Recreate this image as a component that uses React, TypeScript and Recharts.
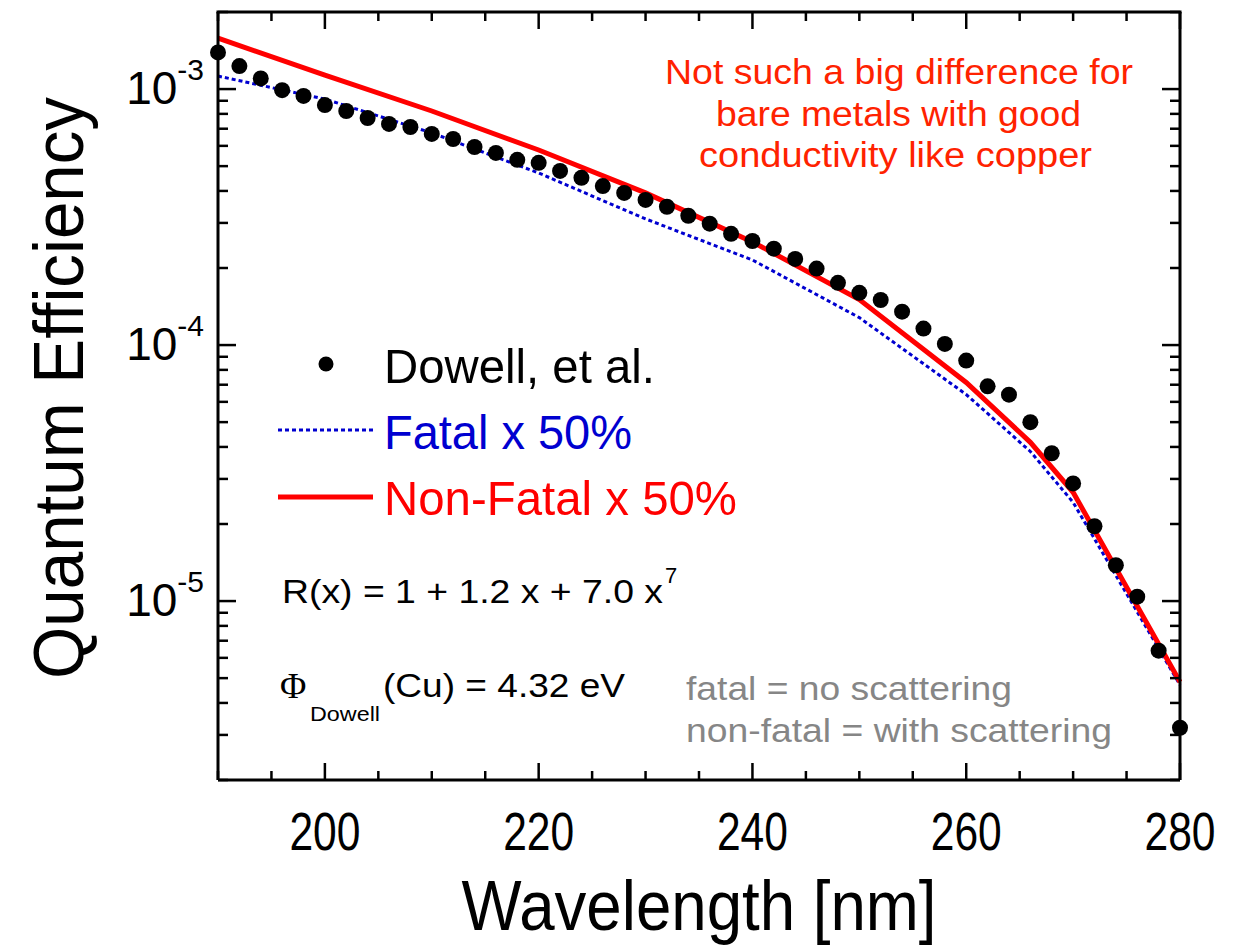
import React from 'react';
import { ComposedChart, Line, Scatter, XAxis, YAxis } from 'recharts';

// Measured QE (Dowell, et al.) every 2 nm
const dowellWavelength = [
  190, 192, 194, 196, 198, 200, 202, 204, 206, 208, 210, 212, 214, 216, 218, 220,
  222, 224, 226, 228, 230, 232, 234, 236, 238, 240, 242, 244, 246, 248, 250, 252,
  254, 256, 258, 260, 262, 264, 266, 268, 270, 272, 274, 276, 278, 280,
];
const dowellQE = [
  1.39e-3, 1.23e-3, 1.10e-3, 9.9e-4, 9.4e-4, 8.66e-4, 8.21e-4, 7.71e-4, 7.31e-4, 7.11e-4,
  6.68e-4, 6.38e-4, 5.94e-4, 5.63e-4, 5.29e-4, 5.15e-4, 4.79e-4, 4.50e-4, 4.18e-4, 3.93e-4,
  3.69e-4, 3.47e-4, 3.20e-4, 2.98e-4, 2.72e-4, 2.55e-4, 2.38e-4, 2.17e-4, 1.99e-4, 1.75e-4,
  1.60e-4, 1.50e-4, 1.35e-4, 1.16e-4, 1.01e-4, 8.7e-5, 6.9e-5, 6.4e-5, 5.0e-5, 3.78e-5,
  2.88e-5, 1.96e-5, 1.38e-5, 1.04e-5, 6.4e-6, 3.2e-6,
];

// Model curves, scaled by 50%
const modelWavelength = [190, 200, 210, 220, 230, 240, 250, 260, 266, 270, 280];
const fatalQE = [1.124e-3, 9.14e-4, 6.74e-4, 4.70e-4, 3.11e-4, 2.15e-4, 1.28e-4, 6.41e-5, 3.84e-5, 2.43e-5, 4.7e-6];
const nonFatalQE = [1.58e-3, 1.134e-3, 8.21e-4, 5.78e-4, 3.93e-4, 2.53e-4, 1.505e-4, 7.14e-5, 4.17e-5, 2.66e-5, 4.83e-6];

const xTicks = [
  190, 195, 200, 205, 210, 215, 220, 225, 230, 235, 240, 245, 250, 255, 260, 265, 270, 275, 280,
];
const xLabels = [200, 220, 240, 260, 280];
const yTicks = [
  2e-6, 3e-6, 4e-6, 5e-6, 6e-6, 7e-6, 8e-6, 9e-6,
  1e-5, 2e-5, 3e-5, 4e-5, 5e-5, 6e-5, 7e-5, 8e-5, 9e-5,
  1e-4, 2e-4, 3e-4, 4e-4, 5e-4, 6e-4, 7e-4, 8e-4, 9e-4,
  1e-3, 2e-3,
];
const X_DOMAIN = [190, 280];
const Y_DOMAIN = [2e-6, 2e-3];

const dowellData = dowellWavelength.map((wl, i) => ({ wl, qe: dowellQE[i] }));
const fatalData = modelWavelength.map((wl, i) => ({ wl, qe: fatalQE[i] }));
const nonFatalData = modelWavelength.map((wl, i) => ({ wl, qe: nonFatalQE[i] }));

// chart box
const W = 1250;
const H = 949;
const LEFT_W = 218;
const RIGHT_W = 70;
const TOP = 12;
const BOTTOM_H = 169;

const FONT = '"Liberation Sans", Arial, sans-serif';

const isDecade = (v: number) => Math.abs(Math.log10(v) - Math.round(Math.log10(v))) < 1e-6;
const tickLen = (wl: number) => (wl % 20 === 0 ? 17 : 9);

const BottomTick = ({ x, y, payload }: any) => (
  <g>
    <line x1={x} x2={x} y1={y} y2={y - tickLen(payload.value)} stroke="#000" strokeWidth={2.5} />
    {xLabels.includes(payload.value) && (
      <text x={x} y={y + 70} textAnchor="middle" fontFamily={FONT} fontSize={53}
        textLength={71} lengthAdjust="spacingAndGlyphs" fill="#000">
        {payload.value}
      </text>
    )}
  </g>
);

const LeftTick = ({ x, y, payload }: any) => {
  const major = isDecade(payload.value);
  const exp = Math.round(Math.log10(payload.value));
  return (
    <g>
      <line x1={x} x2={x + (major ? 18 : 10)} y1={y} y2={y} stroke="#000" strokeWidth={2.5} />
      {major && (
        <text x={x - 14} y={y + 15} textAnchor="end" fontFamily={FONT} fill="#000">
          <tspan fontSize={46}>10</tspan>
          <tspan fontSize={30} dy={-24}>{exp}</tspan>
        </text>
      )}
    </g>
  );
};

const RightTick = ({ x, y, payload }: any) => {
  const major = isDecade(payload.value);
  return <line x1={x} x2={x - (major ? 18 : 10)} y1={y} y2={y} stroke="#000" strokeWidth={2.5} />;
};

const Dot = ({ cx, cy }: any) => <circle cx={cx} cy={cy} r={8} fill="#000" />;

// top edge of the frame, ticks pointing inward
const TopFrame = () => {
  const x0 = LEFT_W;
  const x1 = W - RIGHT_W;
  const px = (wl: number) => x0 + ((wl - X_DOMAIN[0]) / (X_DOMAIN[1] - X_DOMAIN[0])) * (x1 - x0);
  return (
    <g stroke="#000">
      <line x1={x0 - 1.5} x2={x1 + 1.5} y1={TOP} y2={TOP} strokeWidth={3} />
      {xTicks.map((wl) => (
        <line key={wl} x1={px(wl)} x2={px(wl)} y1={TOP} y2={TOP + tickLen(wl)} strokeWidth={2.5} />
      ))}
    </g>
  );
};

export default function App() {
  return (
    <div style={{ position: 'absolute', left: 0, top: 0, width: W, height: H, background: '#fff' }}>
      <ComposedChart width={W} height={H} margin={{ top: TOP, right: 0, bottom: 0, left: 0 }}>
        <XAxis xAxisId="bottom" dataKey="wl" type="number" domain={X_DOMAIN}
          ticks={xTicks} interval={0} height={BOTTOM_H} tickSize={0} tickMargin={0} tickLine={false}
          axisLine={{ stroke: '#000', strokeWidth: 3 }} tick={<BottomTick />} />
        <YAxis yAxisId="left" dataKey="qe" type="number" scale="log" domain={Y_DOMAIN}
          ticks={yTicks} interval={0} width={LEFT_W} tickSize={0} tickMargin={0} tickLine={false}
          axisLine={{ stroke: '#000', strokeWidth: 3 }} tick={<LeftTick />} />
        <YAxis yAxisId="right" orientation="right" dataKey="qe" type="number" scale="log"
          domain={Y_DOMAIN} ticks={yTicks} interval={0} width={RIGHT_W} tickSize={0} tickMargin={0}
          tickLine={false} axisLine={{ stroke: '#000', strokeWidth: 3 }} tick={<RightTick />} />

        <Line xAxisId="bottom" yAxisId="left" data={fatalData} dataKey="qe" type="linear"
          stroke="#0000d0" strokeWidth={3} strokeDasharray="4 3" dot={false} isAnimationActive={false} />
        <Line xAxisId="bottom" yAxisId="left" data={nonFatalData} dataKey="qe" type="linear"
          stroke="#ff0000" strokeWidth={5} dot={false} isAnimationActive={false} />
        {/* right axis shares the left domain, so the points land in the same place */}
        <Scatter xAxisId="bottom" yAxisId="right" data={dowellData} dataKey="qe"
          shape={<Dot />} isAnimationActive={false} />
      </ComposedChart>

      {/* frame top, titles, legend and notes */}
      <svg width={W} height={H} style={{ position: 'absolute', left: 0, top: 0, pointerEvents: 'none' }}
        fontFamily={FONT}>
        <TopFrame />

        <text x={699} y={930} textAnchor="middle" fontSize={70} textLength={475}
          lengthAdjust="spacingAndGlyphs" fill="#000">Wavelength [nm]</text>
        <text transform="translate(83, 388) rotate(-90)" textAnchor="middle" fontSize={70}
          textLength={582} lengthAdjust="spacingAndGlyphs" fill="#000">Quantum Efficiency</text>

        <g fill="#ff2200" fontSize={35}>
          <text x={665} y={84} textLength={468} lengthAdjust="spacingAndGlyphs">Not such a big difference for</text>
          <text x={716} y={126} textLength={365} lengthAdjust="spacingAndGlyphs">bare metals with good</text>
          <text x={699} y={167} textLength={393} lengthAdjust="spacingAndGlyphs">conductivity like copper</text>
        </g>

        <circle cx={326} cy={364} r={7.5} fill="#000" />
        <text x={384} y={383} fontSize={49} textLength={271} lengthAdjust="spacingAndGlyphs" fill="#000">Dowell, et al.</text>
        <line x1={278} x2={373} y1={430} y2={430} stroke="#0000d0" strokeWidth={3} strokeDasharray="4 3" />
        <text x={384} y={449} fontSize={49} textLength={248} lengthAdjust="spacingAndGlyphs" fill="#0000d0">Fatal x 50%</text>
        <line x1={278} x2={373} y1={497} y2={497} stroke="#ff0000" strokeWidth={5} />
        <text x={384} y={515} fontSize={49} textLength={353} lengthAdjust="spacingAndGlyphs" fill="#ff0000">Non-Fatal x 50%</text>

        <text x={282} y={603} fontSize={34} textLength={381} lengthAdjust="spacingAndGlyphs" fill="#000">R(x) = 1 + 1.2 x + 7.0 x</text>
        <text x={665} y={583} fontSize={22} fill="#000">7</text>

        <text x={280} y={698} fontSize={36} fontFamily='"Liberation Serif", serif' fill="#000">Φ</text>
        <text x={310} y={721} fontSize={21} textLength={70} lengthAdjust="spacingAndGlyphs" fill="#000">Dowell</text>
        <text x={383} y={697} fontSize={34} textLength={242} lengthAdjust="spacingAndGlyphs" fill="#000">(Cu) = 4.32 eV</text>

        <g fill="#868686" fontSize={33}>
          <text x={686} y={700} textLength={326} lengthAdjust="spacingAndGlyphs">fatal = no scattering</text>
          <text x={686} y={742} textLength={426} lengthAdjust="spacingAndGlyphs">non-fatal = with scattering</text>
        </g>
      </svg>
    </div>
  );
}
